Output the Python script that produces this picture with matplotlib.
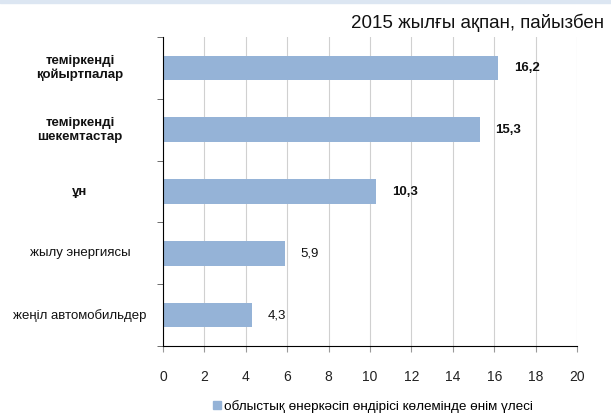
import matplotlib
matplotlib.use('Agg')
import matplotlib.pyplot as plt
from matplotlib.patches import Rectangle
from matplotlib.transforms import blended_transform_factory
import numpy as np

plt.rcParams['font.family'] = ['Liberation Sans', 'DejaVu Sans']

# %% Data
categories = ['теміркенді\nқойыртпалар', 'теміркенді\nшекемтастар', 'ұн',
              'жылу энергиясы', 'жеңіл автомобильдер']
values = [16.2, 15.3, 10.3, 5.9, 4.3]
labels = ['16,2', '15,3', '10,3', '5,9', '4,3']
bold = [True, True, True, False, False]
xticks = [0, 2, 4, 6, 8, 10, 12, 14, 16, 18, 20]
title = '2015 жылғы ақпан, пайызбен'
legend_text = 'облыстық өнеркәсіп өндірісі көлемінде өнім үлесі'

bar_color = '#95b3d7'

# %% Plot
fig = plt.figure(figsize=(6.11, 4.18), dpi=100)
fig.patches.append(Rectangle((0, 0.992), 1, 0.008, transform=fig.transFigure,
                             color='#dce6f2', zorder=0))
ax = fig.add_axes([0.2668, 0.1722, 0.6776, 0.7393])

y = np.arange(len(categories))
ax.barh(y, values, height=0.4, color=bar_color, zorder=2)
ax.set_xlim(0, 20)
ax.set_ylim(len(categories) - 0.5, -0.5)

for yi, v, lab, b in zip(y, values, labels, bold):
    ax.text(v + 0.75, yi, lab, va='center', ha='left', fontsize=9.5,
            fontweight='bold' if b else 'normal', color='#111111')

# category labels, centred in the left margin
trans = blended_transform_factory(fig.transFigure, ax.transData)
for yi, cat, b in zip(y, categories, bold):
    ax.text(0.131, yi, cat, transform=trans, ha='center', va='center',
            multialignment='center', fontsize=9.5,
            fontweight='bold' if b else 'normal', color='#111111')

ax.set_yticks([])
ax.set_yticks(np.arange(-0.5, len(categories), 1), minor=True)
ax.tick_params(axis='y', which='minor', length=4, color='#555555', direction='out')
ax.set_xticks(xticks)
ax.set_xticklabels([str(t) for t in xticks], fontsize=10, color='#222222')
ax.tick_params(axis='x', length=4, color='#999999', pad=13)

ax.grid(axis='x', color='#d0d0d0', linewidth=0.8, zorder=0)
ax.spines['top'].set_visible(False)
ax.spines['right'].set_visible(False)
ax.spines['left'].set_color('black')
ax.spines['bottom'].set_color('black')

fig.text(0.988, 0.945, title, ha='right', va='center', fontsize=13.5, color='#111111')

handle = Rectangle((0, 0), 1, 1, color=bar_color)
fig.legend([handle], [legend_text], loc='center', bbox_to_anchor=(0.61, 0.028),
           frameon=False, fontsize=9.7, handlelength=0.6, handleheight=0.6,
           handletextpad=0.2)

fig.savefig('out.png', dpi=100)
